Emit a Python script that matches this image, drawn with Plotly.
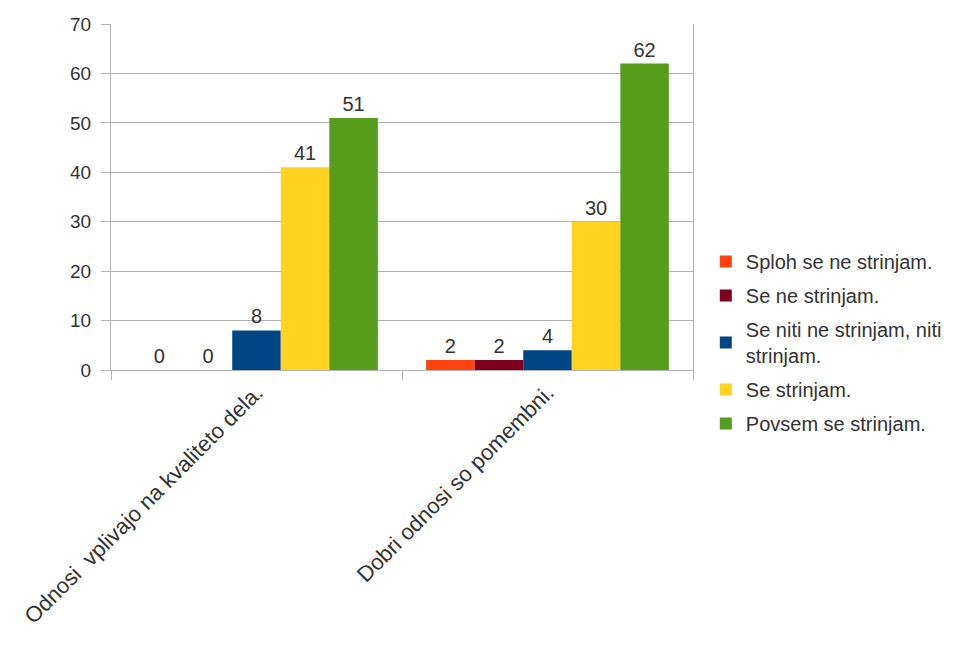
import plotly.graph_objects as go

categories = ["Odnosi  vplivajo na kvaliteto dela.", "Dobri odnosi so pomembni."]
series_names = [
    "Sploh se ne strinjam.",
    "Se ne strinjam.",
    "Se niti ne strinjam, niti<br>strinjam.",
    "Se strinjam.",
    "Povsem se strinjam.",
]
series_values = [
    [0, 2],
    [0, 2],
    [8, 4],
    [41, 30],
    [51, 62],
]
colors = ["#FF420E", "#7E0021", "#004586", "#FFD320", "#579D1C"]
y_ticks = [0, 10, 20, 30, 40, 50, 60, 70]

FONT = "Liberation Sans, Arial, sans-serif"

fig = go.Figure()
for i, (name, vals, col) in enumerate(zip(series_names, series_values, colors)):
    fig.add_trace(go.Bar(
        x=categories, y=vals, name=name, legendgroup=f"g{i}",
        marker=dict(color=col, line=dict(width=0)),
        text=[str(v) for v in vals], textposition="outside",
        textfont=dict(size=20, color="#333333", family=FONT),
        cliponaxis=False,
    ))

fig.update_layout(
    barmode="group",
    bargap=0.166,
    bargroupgap=0,
    width=977, height=648,
    margin=dict(l=111, r=284, t=24, b=278),
    paper_bgcolor="white", plot_bgcolor="white",
    font=dict(family=FONT, size=19, color="#333333"),
    showlegend=True,
    legend=dict(
        x=1.022, y=0.37, xanchor="left", yanchor="top",
        font=dict(size=20, color="#333333", family=FONT),
        bgcolor="rgba(0,0,0,0)",
        itemwidth=30,
        tracegroupgap=5,
    ),
    xaxis=dict(
        type="category",
        tickangle=-45,
        ticks="outside", tickson="boundaries", ticklen=9,
        tickcolor="#b3b3b3",
        showgrid=False, showline=True, linecolor="#b3b3b3", linewidth=1,
        tickfont=dict(size=22, color="#333333", family=FONT),
    ),
    yaxis=dict(
        range=[0, 70], tickvals=y_ticks,
        ticks="outside", ticklen=9, tickcolor="#b3b3b3",
        ticklabelstandoff=6,
        showgrid=True, gridcolor="#b3b3b3", gridwidth=1,
        showline=True, linecolor="#b3b3b3", mirror=True, linewidth=1,
        zeroline=False,
        tickfont=dict(size=19, color="#333333", family=FONT),
    ),
)

fig.write_html("out.html")
